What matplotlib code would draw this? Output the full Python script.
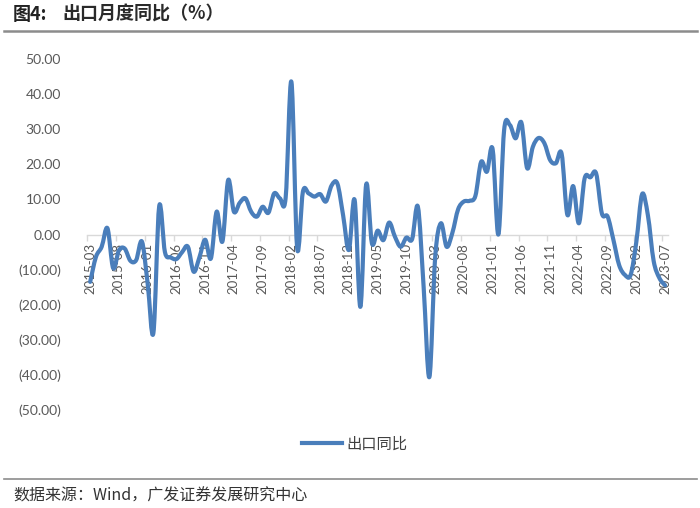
import matplotlib
matplotlib.use("Agg")
import matplotlib.pyplot as plt
from matplotlib.path import Path
from matplotlib.patches import PathPatch
from matplotlib.lines import Line2D
from matplotlib.ticker import FixedLocator, FuncFormatter
import numpy as np

plt.rcParams['font.family'] = ['Lato', 'Noto Sans CJK SC', 'DejaVu Sans']

# ---- data (monthly export YoY, %, 2015-03 .. 2023-07) ----
months = [f"{y}-{m:02d}" for y in range(2015, 2024) for m in range(1, 13)]
months = months[months.index("2015-03"):months.index("2023-07") + 1]

v2015 = [-13.5, -6.4, -3.5, 1.8, -9.6, -4.5, -4.0, -7.5, -7.3, -2.0]
v2016 = [-14.0, -28.0, 8.0, -5.0, -6.5, -7.0, -5.0, -3.5, -10.6, -6.5, -1.5, -6.8]
v2017 = [6.5, -2.0, 15.5, 6.5, 9.0, 10.3, 6.5, 5.1, 7.9, 6.2, 11.7, 10.3]
v2018 = [10.5, 43.5, -3.9, 12.2, 11.7, 10.8, 11.5, 9.4, 14.0, 14.5, 5.4, -4.4]
v2019 = [9.8, -20.6, 14.2, -2.5, 1.1, -1.6, 3.4, -0.6, -3.5, -0.9, -1.3, 7.9]
v2020 = [-15.0, -40.6, -6.6, 3.2, -3.5, 0.5, 7.2, 9.4, 9.6, 11.0, 20.7, 17.9]
v2021 = [24.3, 0.0, 29.8, 31.2, 27.4, 31.9, 18.9, 25.0, 27.5, 26.0, 21.2, 20.3]
v2022 = [23.0, 5.6, 13.8, 3.2, 16.0, 16.3, 17.4, 6.0, 5.1, -1.5, -8.7, -11.5]
v2023 = [-11.5, -2.0, 11.5, 5.5, -7.5, -12.4, -14.5]
export_yoy = v2015 + v2016 + v2017 + v2018 + v2019 + v2020 + v2021 + v2022 + v2023

tick_labels = months[::5]
series_name = "出口同比"
title_num = "图4:"
title_text = "出口月度同比（%）"
source_text = "数据来源：Wind，广发证券发展研究中心"

# ---- figure ----
W, H = 700, 508
fig = plt.figure(figsize=(W / 100, H / 100), dpi=100)
ax = fig.add_axes([87.3 / W, (H - 410) / H, (668 - 87.3) / W, (410 - 59) / H])

color = "#4A7EBB"
x = np.arange(len(export_yoy), dtype=float)
y = np.array(export_yoy, dtype=float)

# smoothed line (Excel-like Catmull-Rom -> cubic Bezier), built from data
verts = [(x[0], y[0])]
codes = [Path.MOVETO]
n = len(x)
for i in range(n - 1):
    p0 = np.array([x[max(i - 1, 0)], y[max(i - 1, 0)]])
    p1 = np.array([x[i], y[i]])
    p2 = np.array([x[i + 1], y[i + 1]])
    p3 = np.array([x[min(i + 2, n - 1)], y[min(i + 2, n - 1)]])
    c1 = p1 + (p2 - p0) / 6.0
    c2 = p2 - (p3 - p1) / 6.0
    verts += [tuple(c1), tuple(c2), tuple(p2)]
    codes += [Path.CURVE4, Path.CURVE4, Path.CURVE4]
patch = PathPatch(Path(verts, codes), facecolor="none", edgecolor=color,
                  lw=3.0, capstyle="round", joinstyle="round", zorder=3)
ax.add_patch(patch)

ax.set_xlim(-0.5, len(export_yoy) - 0.5)
ax.set_ylim(-50, 50)

# axes styling
for s in ["top", "right", "left"]:
    ax.spines[s].set_visible(False)
ax.spines["bottom"].set_position(("data", 0))
ax.spines["bottom"].set_color("#D9D9D9")
ax.spines["bottom"].set_linewidth(1.0)
ax.spines["bottom"].set_zorder(1)

ax.set_xticks(x[::5])
ax.set_xticklabels(tick_labels, rotation=90, fontsize=9.5, color="#595959")
ax.xaxis.set_minor_locator(FixedLocator(np.arange(-0.5, len(export_yoy), 5)))
ax.tick_params(axis="x", which="major", length=0, pad=6)
ax.tick_params(axis="x", which="minor", length=4, color="#D9D9D9", width=1)

ax.set_yticks(np.arange(-50, 51, 10))
ax.yaxis.set_major_formatter(FuncFormatter(
    lambda v, p: f"({abs(v):.2f})" if v < 0 else f"{v:.2f}"))
ax.tick_params(axis="y", length=0, pad=19, labelsize=10, labelcolor="#595959")

# legend
handle = Line2D([], [], color=color, lw=3.0)
fig.legend([handle], [series_name], loc="center", bbox_to_anchor=(355 / W, 1 - 444 / H),
           frameon=False, handlelength=2.6, handletextpad=0.3,
           labelcolor="#404040", prop={'family': ['Noto Sans CJK SC'], 'size': 11})

# title & decorations
fig.text(13 / W, 1 - 14 / H, title_num, fontsize=13, fontweight="bold",
         family=["Noto Sans CJK SC"], color="#222222", va="center", ha="left")
fig.text(62 / W, 1 - 14 / H, title_text, fontsize=13, fontweight="bold",
         family=["Noto Sans CJK SC"], color="#2a2a2a", va="center", ha="left")
fig.add_artist(Line2D([4 / W, 697 / W], [1 - 31 / H, 1 - 31 / H], color="#8C8C8C", lw=1.8))
fig.add_artist(Line2D([4 / W, 697 / W], [1 - 479 / H, 1 - 479 / H], color="#8C8C8C", lw=1.2))
fig.text(13 / W, 1 - 496 / H, source_text, fontsize=11.5,
         family=["Noto Sans CJK SC", "DejaVu Sans"], color="#333333", va="center", ha="left")

fig.savefig("out.png", dpi=100)
